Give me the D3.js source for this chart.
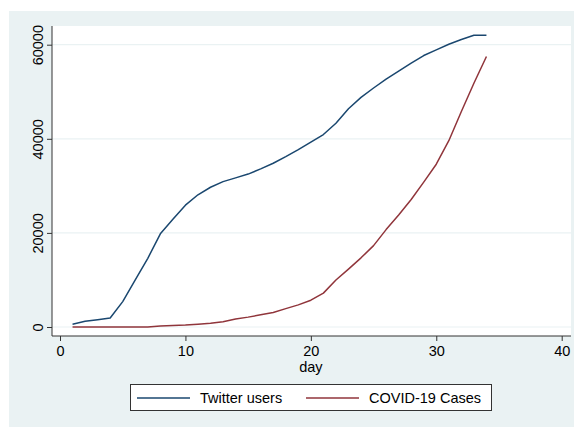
<!DOCTYPE html>
<html>
<head>
<meta charset="utf-8">
<script src="https://cdn.jsdelivr.net/npm/d3@7"></script>
<style>
  html, body { margin: 0; padding: 0; background: #ffffff; }
  svg { display: block; font-family: "Liberation Sans", Arial, sans-serif; }
</style>
</head>
<body>
<svg id="chart" width="574" height="427"></svg>
<script>
const days = [1,2,3,4,5,6,7,8,9,10,11,12,13,14,15,16,17,18,19,20,21,22,23,24,25,26,27,28,29,30,31,32,33,34];
const twitterUsers = [600,1200,1550,1900,5400,10000,14600,19800,22900,25900,28100,29700,30900,31700,32500,33600,34800,36200,37700,39300,40900,43300,46400,48800,50800,52700,54400,56100,57700,58900,60100,61100,62000,62000];
const covidCases = [0,0,0,0,0,0,0,200,300,400,600,800,1100,1700,2100,2600,3100,3900,4700,5700,7200,10000,12300,14700,17300,20700,23800,27100,30800,34600,39600,45800,51800,57500];
const xTicks = [0,10,20,30,40];
const yTicks = [0,20000,40000,60000];
const seriesNames = ["Twitter users","COVID-19 Cases"];
const seriesColors = ["#1a476f","#90353b"];

const svg = d3.select("#chart");

// outer graph region
svg.append("rect").attr("x",9).attr("y",11).attr("width",565).attr("height",416).attr("fill","#eaf2f3");
// plot region
const plotL = 52, plotR = 571, plotT = 26, plotB = 336;
svg.append("rect").attr("x",plotL).attr("y",plotT).attr("width",plotR-plotL).attr("height",plotB-plotT).attr("fill","#ffffff");

const x = d3.scaleLinear().domain([0,40]).range([60,561.7]);
const y = d3.scaleLinear().domain([0,60000]).range([327,44.7]);

// gridlines
svg.append("g").selectAll("line").data(yTicks).join("line")
  .attr("x1",plotL).attr("x2",plotR)
  .attr("y1",d=>y(d)).attr("y2",d=>y(d))
  .attr("stroke","#eaf2f3").attr("stroke-width",1.2);

// y axis
const yAxis = svg.append("g").attr("transform",`translate(${plotL},0)`)
  .call(d3.axisLeft(y).tickValues(yTicks).tickSize(5).tickPadding(9).tickFormat(d3.format("d")));
yAxis.select(".domain").attr("d",`M0,${plotT}V${plotB}`).attr("stroke","#333");
yAxis.selectAll(".tick line").attr("stroke","#333");
yAxis.selectAll(".tick text")
  .attr("font-size","14.5px").attr("fill","#000")
  .attr("x",null).attr("dy",null)
  .attr("text-anchor","middle")
  .attr("transform","translate(-9,0) rotate(-90)");

// x axis
const xAxis = svg.append("g").attr("transform",`translate(0,${plotB})`)
  .call(d3.axisBottom(x).tickValues(xTicks).tickSize(5).tickPadding(5));
xAxis.select(".domain").attr("d",`M${plotL},0H${plotR}`).attr("stroke","#333");
xAxis.selectAll(".tick line").attr("stroke","#333");
xAxis.selectAll(".tick text").attr("font-size","14.5px").attr("fill","#000");

svg.append("text").attr("x",x(20)).attr("y",372).attr("text-anchor","middle")
  .attr("font-size","14.5px").attr("fill","#000").text("day");

// lines
const series = [twitterUsers, covidCases];
const line = d3.line().x((d,i)=>x(days[i])).y(d=>y(d));
series.forEach((vals,k)=>{
  svg.append("path").datum(vals).attr("d",line)
    .attr("fill","none").attr("stroke",seriesColors[k]).attr("stroke-width",1.5)
    .attr("stroke-linejoin","round");
});

// legend
const lg = svg.append("g");
lg.append("rect").attr("x",130.5).attr("y",384.5).attr("width",361).attr("height",26)
  .attr("fill","#fff").attr("stroke","#333").attr("stroke-width",1);
const legX = [137, 306];
seriesNames.forEach((n,k)=>{
  lg.append("line").attr("x1",legX[k]).attr("x2",legX[k]+53).attr("y1",398).attr("y2",398)
    .attr("stroke",seriesColors[k]).attr("stroke-width",1.5);
  lg.append("text").attr("x",legX[k]+63).attr("y",403).attr("font-size","14.5px").attr("fill","#000").text(n);
});
</script>
</body>
</html>
